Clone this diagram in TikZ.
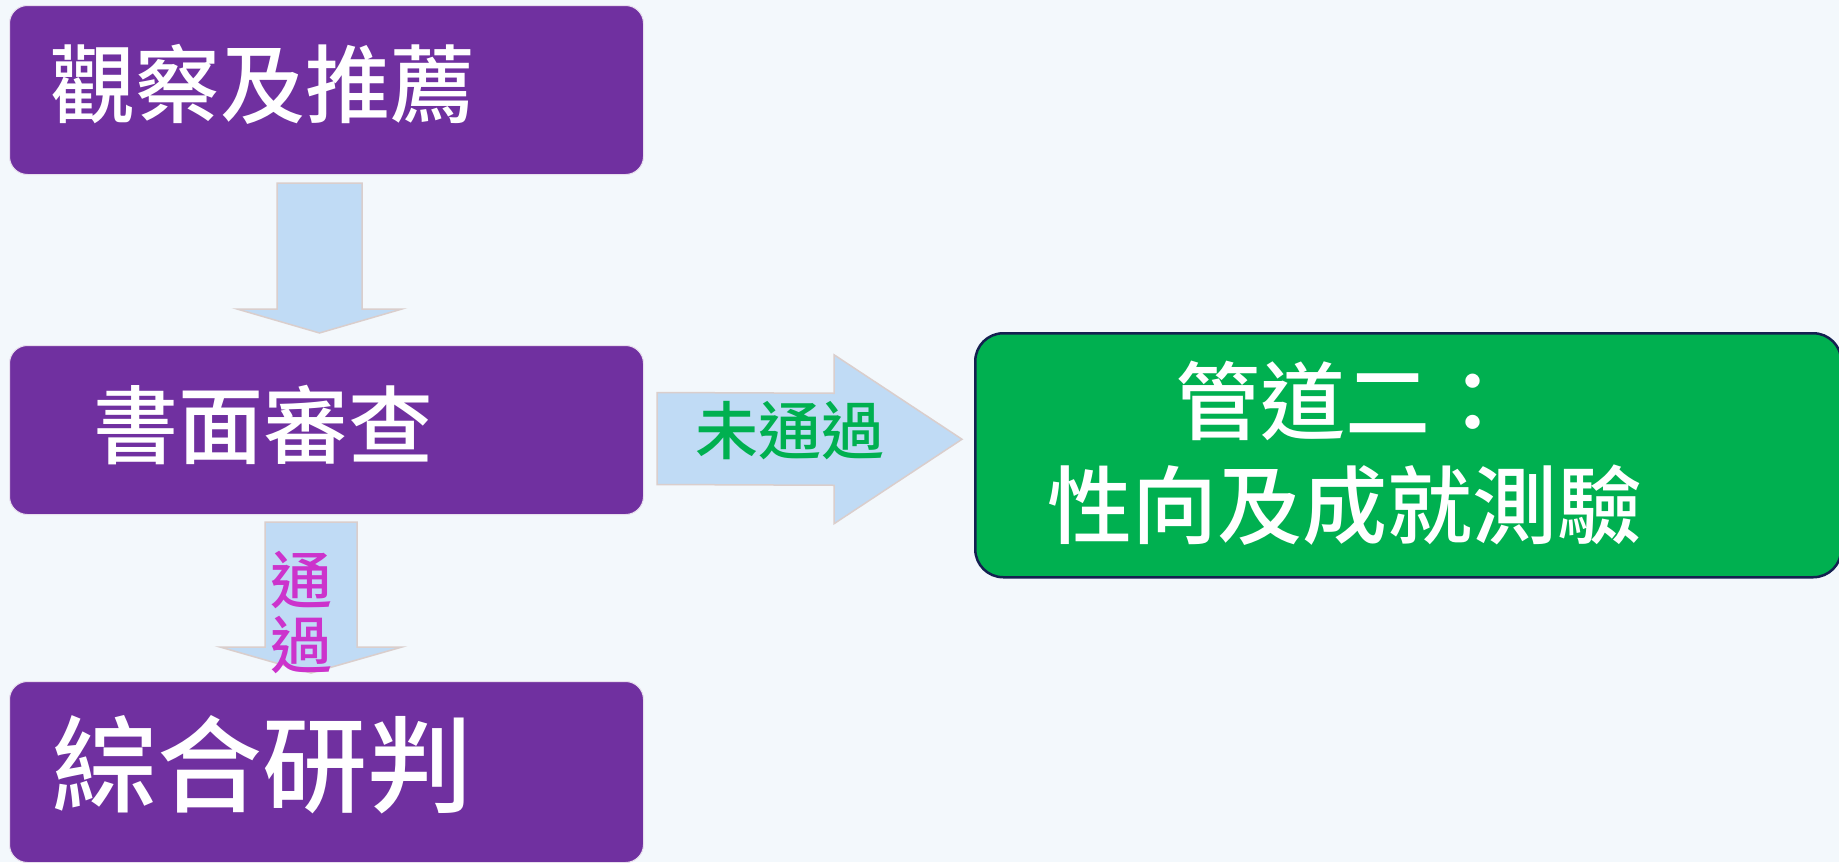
\documentclass[tikz,border=0pt]{standalone}
\usepackage{fontspec}
\newfontfamily\cjk{Noto Sans CJK TC Medium}
\usetikzlibrary{calc}
\definecolor{bgc}{RGB}{243,248,252}
\definecolor{purp}{RGB}{112,48,160}
\definecolor{grn}{RGB}{0,176,80}
\definecolor{navy}{RGB}{20,32,80}
\definecolor{arrfill}{RGB}{192,219,245}
\definecolor{arrline}{RGB}{218,206,204}
\definecolor{mag}{RGB}{204,51,204}
\tikzset{
  pbox/.style={draw={rgb,255:red,232;green,222;blue,238}, line width=1pt, fill=purp, rounded corners=18pt,
    minimum width=634pt, minimum height=169pt, inner sep=0pt, anchor=north west},
  gbox/.style={draw=navy, line width=2.5pt, fill=grn, rounded corners=28pt,
    minimum width=866pt, minimum height=244pt, inner sep=0pt, anchor=north west},
  blockarrow/.style={fill=arrfill, draw=arrline, line width=1.5pt, line join=miter},
  wtext/.style={text=white, inner sep=0pt, anchor=base west},
}
\begin{document}
\begin{tikzpicture}[x=1pt,y=-1pt]
\useasboundingbox (0,0) rectangle (1839,862);
\fill[bgc] (0,0) rectangle (1839,862);

% boxes
\node[pbox] (b1) at (9,5) {};
\node[pbox] (b2) at (9,345) {};
\node[pbox, minimum height=181pt] (b3) at (9,681) {};
\node[gbox] (g) at (974,332) {};

% texts
\node[wtext, font=\cjk\fontsize{85}{85}\selectfont] (t1) at ($(b1.north west)+(41,111)$) {觀察及推薦};
\node[wtext, font=\cjk\fontsize{85}{85}\selectfont] (t2) at ($(b2.north west)+(84,112)$) {書面審查};
\node[wtext, font=\cjk\fontsize{105}{105}\selectfont] (t3) at ($(b3.north west)+(43,123)$) {綜合研判};
\node[text=white, inner sep=0pt, anchor=base, align=center, font=\cjk\fontsize{85}{104}\selectfont] (tg) at (1345,537) {管道二：\\性向及成就測驗};

% arrow 1 (down)
\coordinate (a1top) at ($(b1.south west)+(310.5,8)$);
\coordinate (a1tip) at ($(b2.north west)+(310.5,-12)$);
\filldraw[blockarrow] ($(a1top)+(-42.5,0)$) -- ($(a1top)+(42.5,0)$) -- ($(a1tip)+(42.5,-24)$) -- ($(a1tip)+(82.5,-24)$) -- (a1tip) -- ($(a1tip)+(-82.5,-24)$) -- ($(a1tip)+(-42.5,-24)$) -- cycle;

% arrow 2 (down, pass)
\coordinate (a2top) at ($(b2.south west)+(302,7)$);
\coordinate (a2tip) at ($(b3.north west)+(302,-8)$);
\filldraw[blockarrow] ($(a2top)+(-46,0)$) -- ($(a2top)+(46,0)$) -- ($(a2tip)+(46,-26)$) -- ($(a2tip)+(91,-26)$) -- (a2tip) -- ($(a2tip)+(-91,-26)$) -- ($(a2tip)+(-46,-26)$) -- cycle;

% arrow 3 (right, fail)
\coordinate (a3start) at ($(b2.east)+(13,8.5)$);
\coordinate (a3tip) at ($(g.west)+(-12,-16)$);
\filldraw[blockarrow] ($(a3start)+(0,-46)$) -- ($(a3tip)+(-128,-46)$) -- ($(a3tip)+(-128,-84.5)$) -- (a3tip) -- ($(a3tip)+(-128,84.5)$) -- ($(a3tip)+(-128,46)$) -- ($(a3start)+(0,46)$) -- cycle;

% arrow labels
\node[text=grn, inner sep=0pt, anchor=base, font=\cjk\fontsize{63}{63}\selectfont] (l3) at (790,454) {未通過};
\node[text=mag, inner sep=0pt, anchor=base, align=center, font=\cjk\fontsize{62}{65}\selectfont] (l2) at (301,668) {通\\過};
\end{tikzpicture}
\end{document}
